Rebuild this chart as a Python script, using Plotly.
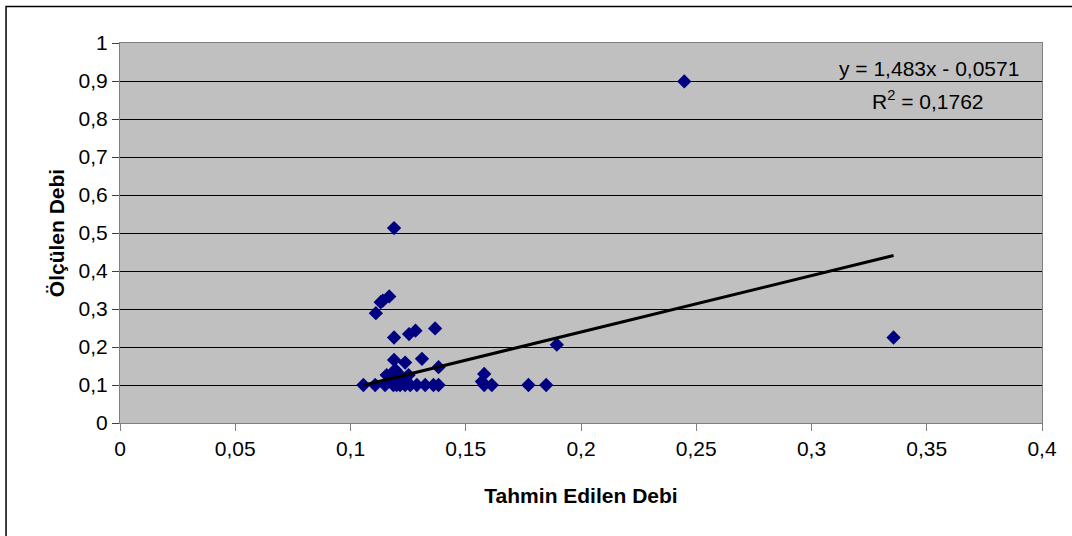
import plotly.graph_objects as go

# Data
tahmin = [0.1189, 0.1168, 0.1140, 0.1131, 0.1110, 0.1189, 0.1254, 0.1282, 0.1367,
          0.1895, 0.1189, 0.1237, 0.1310, 0.1382, 0.1157, 0.1194, 0.1252, 0.1580,
          0.1056, 0.1107, 0.1150, 0.1186, 0.1200, 0.1215, 0.1237, 0.1259, 0.1288,
          0.1324, 0.1360, 0.1382, 0.1570, 0.1580, 0.1613, 0.1772, 0.1849,
          0.2448, 0.3356, 0.1170, 0.1210, 0.1225, 0.1175, 0.1205]
olculen = [0.513, 0.333, 0.322, 0.318, 0.289, 0.225, 0.234, 0.243, 0.249,
           0.206, 0.166, 0.159, 0.169, 0.147, 0.126, 0.140, 0.126, 0.129,
           0.100, 0.100, 0.100, 0.100, 0.100, 0.100, 0.100, 0.100, 0.100,
           0.100, 0.100, 0.100, 0.109, 0.100, 0.100, 0.100, 0.100,
           0.899, 0.225, 0.110, 0.115, 0.105, 0.120, 0.132]

slope = 1.483
intercept = -0.0571
eq_text = "y = 1,483x - 0,0571"
r2_text = "R<sup>2</sup> = 0,1762"

xmin, xmax = min(tahmin), max(tahmin)
trend_x = [xmin, xmax]
trend_y = [slope * v + intercept for v in trend_x]

fig = go.Figure()
fig.add_trace(go.Scatter(
    x=tahmin, y=olculen, mode="markers",
    marker=dict(symbol="diamond", size=11, color="#000080", line=dict(width=0)),
    showlegend=False))
fig.add_trace(go.Scatter(
    x=trend_x, y=trend_y, mode="lines",
    line=dict(color="black", width=3), hoverinfo="skip", showlegend=False))

font = "Liberation Sans, Arial, sans-serif"
FS = 21
fig.update_layout(
    width=1072, height=536,
    margin=dict(l=120, r=30, t=43, b=113),
    paper_bgcolor="white", plot_bgcolor="#C0C0C0",
    separators=",.",
    font=dict(family=font, size=FS, color="black"),
    xaxis=dict(range=[0, 0.4], dtick=0.05, tick0=0, showgrid=False, zeroline=False,
               ticks="outside", ticklen=7, tickcolor="#808080", showline=True,
               linecolor="#808080", mirror=True, linewidth=1,
               title=dict(text="<b>Tahmin Edilen Debi</b>", font=dict(size=FS), standoff=29),
               tickfont=dict(size=FS)),
    yaxis=dict(range=[0, 1], dtick=0.1, tick0=0, showgrid=True, gridcolor="black",
               gridwidth=1, zeroline=False, ticks="outside", ticklen=7,
               tickcolor="#404040", showline=True, linecolor="#808080", mirror=True,
               linewidth=1,
               title=dict(text="<b>Ölçülen Debi</b>", font=dict(size=FS), standoff=8),
               tickfont=dict(size=FS)),
    annotations=[
        dict(text=eq_text, xref="paper", yref="paper", x=0.977, y=0.934,
             xanchor="right", yanchor="middle", showarrow=False, font=dict(size=FS)),
        dict(text=r2_text, xref="paper", yref="paper", x=0.939, y=0.85,
             xanchor="right", yanchor="middle", showarrow=False, font=dict(size=FS)),
    ],
    shapes=[dict(type="rect", xref="paper", yref="paper",
                 x0=-0.1236, x1=1.2, y0=-0.35, y1=1.096,
                 line=dict(color="black", width=1.5), fillcolor="rgba(0,0,0,0)", layer="below")],
)

fig.write_html("out.html", config={"displayModeBar": False},
               post_script="document.body.style.margin='0';")
